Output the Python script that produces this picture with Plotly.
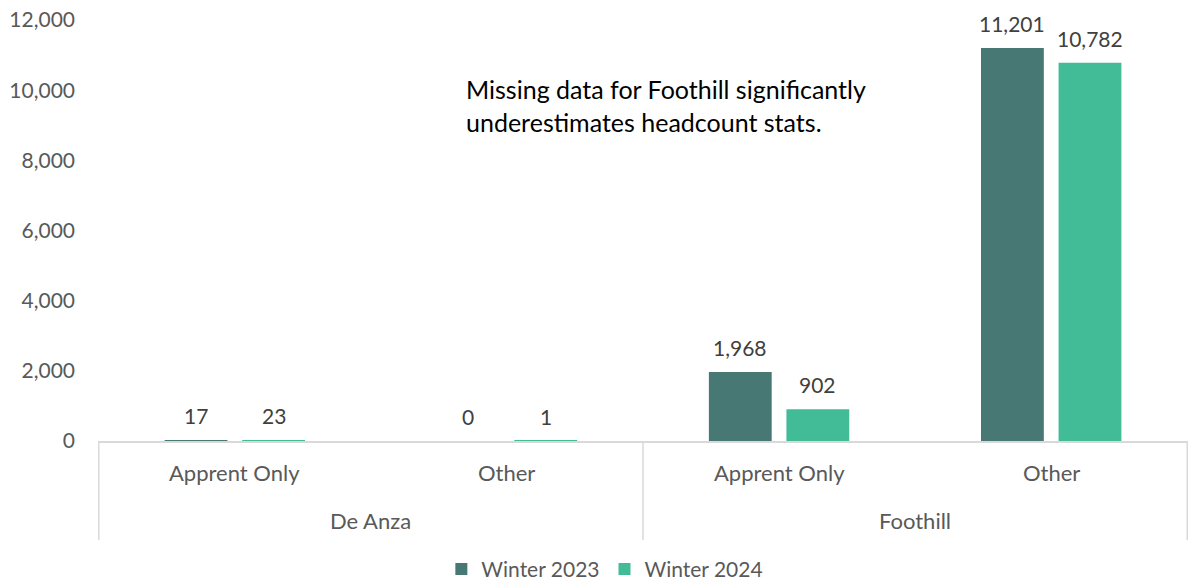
import plotly.graph_objects as go

colleges = ["De Anza", "De Anza", "Foothill", "Foothill"]
groups = ["Apprent Only", "Other", "Apprent Only", "Other"]
winter_2023 = [17, 0, 1968, 11201]
winter_2024 = [23, 1, 902, 10782]
series_names = ["Winter 2023", "Winter 2024"]
colors = ["#487873", "#42BB97"]
y_ticks = [0, 2000, 4000, 6000, 8000, 10000, 12000]

FONT = "Lato, Carlito, Calibri, sans-serif"
LABEL = "#595959"
LINE = "#D9D9D9"
BARGAP = 0.43
BARGROUPGAP = 0.19

fig = go.Figure()
for name, vals, col in zip(series_names, [winter_2023, winter_2024], colors):
    fig.add_trace(go.Bar(
        x=[colleges, groups], y=vals, name=name,
        marker=dict(color=col, line=dict(width=0)),
    ))

annotations = []
# data labels above bars
slot = (1 - BARGAP) / 2
for k, vals in enumerate([winter_2023, winter_2024]):
    off = (k - 0.5) * slot
    for i, v in enumerate(vals):
        annotations.append(dict(
            x=i + off, y=v, xref="x", yref="y", text=f"{v:,}", showarrow=False,
            yanchor="bottom", xanchor="center", yshift=10,
            font=dict(size=21, color="#404040", family=FONT),
        ))
# inner category labels
for i, g in enumerate(groups):
    annotations.append(dict(
        x=i, y=-0.074, xref="x", yref="paper", text=g, showarrow=False,
        yanchor="middle", font=dict(size=22, color=LABEL, family=FONT),
    ))
# outer group labels
unique_colleges = []
for c in colleges:
    if c not in unique_colleges:
        unique_colleges.append(c)
for c in unique_colleges:
    idx = [i for i, cc in enumerate(colleges) if cc == c]
    annotations.append(dict(
        x=(idx[0] + idx[-1]) / 2, y=-0.188, xref="x", yref="paper", text=c,
        showarrow=False, yanchor="middle", font=dict(size=22, color=LABEL, family=FONT),
    ))
annotations.append(dict(
    text="Missing data for Foothill significantly<br>underestimates headcount stats.",
    xref="paper", yref="paper", x=0.336, y=0.877, xanchor="left", yanchor="top",
    align="left", showarrow=False, font=dict(size=25, color="#000000", family=FONT),
))

# dividers between college groups
shapes = []
bounds = [-0.5]
for c in unique_colleges:
    idx = [i for i, cc in enumerate(colleges) if cc == c]
    bounds.append(idx[-1] + 0.5)
for b in bounds:
    shapes.append(dict(type="line", xref="x", yref="paper", x0=b, x1=b, y0=0, y1=-0.235,
                       line=dict(color=LINE, width=1.5)))

fig.update_layout(
    width=1189, height=581,
    margin=dict(l=98, r=1, t=20, b=140, autoexpand=False),
    paper_bgcolor="white", plot_bgcolor="white",
    barmode="group", bargap=BARGAP, bargroupgap=BARGROUPGAP,
    font=dict(family=FONT, size=21, color=LABEL),
    showlegend=True,
    legend=dict(orientation="h", x=0.465, xanchor="center", y=-0.305, yanchor="middle",
                font=dict(size=21, color=LABEL), itemwidth=30, tracegroupgap=0),
    annotations=annotations, shapes=shapes,
)
fig.update_xaxes(
    type="multicategory", showline=True, linecolor=LINE, linewidth=1.5,
    showdividers=False, showticklabels=False, ticks="", automargin=False,
)
fig.update_yaxes(
    range=[0, 12000], tickvals=y_ticks, tickformat=",d", showgrid=False,
    zeroline=False, showline=False, tickfont=dict(size=21, color=LABEL),
    ticks="", ticklabelstandoff=22, automargin=False,
)

fig.write_html("out.html", config={"displayModeBar": False},
               post_script="document.body.style.margin='0';document.body.style.overflow='hidden';")
